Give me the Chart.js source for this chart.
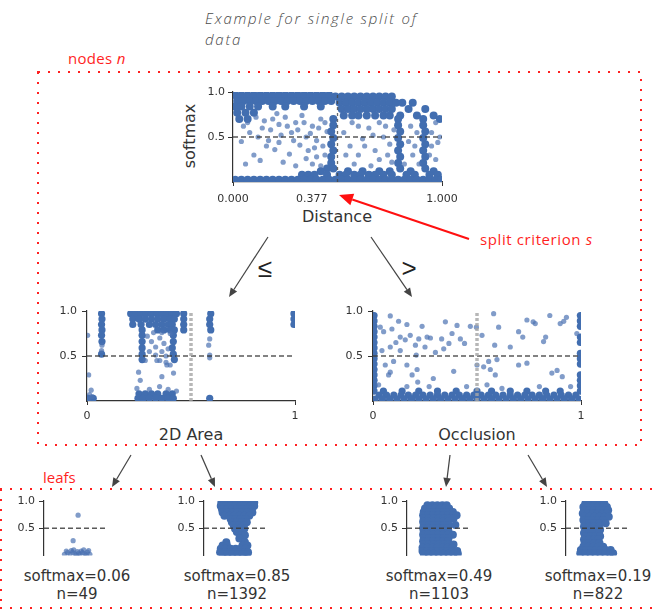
<!DOCTYPE html>
<html lang="en">
<head>
<meta charset="utf-8">
<title>Single split of data</title>
<script src="https://cdn.jsdelivr.net/npm/chart.js@4.4.0/dist/chart.umd.min.js"></script>
<style>
  html, body { margin: 0; padding: 0; background: #fff; }
  #stage { position: relative; width: 656px; height: 610px; overflow: hidden; font-family: 'DejaVu Sans', sans-serif; color: #333; }
  #stage canvas { position: absolute; }
  #stage svg { position: absolute; left: 0; top: 0; }
  .lbl { position: absolute; white-space: nowrap; transform: translate(-50%, -50%); line-height: 1; }
  .red { position: absolute; white-space: nowrap; color: #ff1f1f; font-family: 'Open Sans', sans-serif; font-size: 15px; line-height: 1; }
  #title { position: absolute; left: 205px; top: 8px; font-family: 'Open Sans', sans-serif; font-style: italic; font-weight: 300; font-size: 15px; letter-spacing: 1.75px; line-height: 21px; color: #4a4a4a; white-space: nowrap; }
  .rel { position: absolute; transform: translate(-50%, -50%); font-family: 'Liberation Sans', sans-serif; font-size: 26px; line-height: 1; color: #222; }
</style>
</head>
<body>
<div id="stage">
  <svg id="marks" width="656" height="610"></svg>
  <div id="title">Example for single split of<br>data</div>
  <div class="red" style="left:68px; top:51px; letter-spacing:0.3px;">nodes <i>n</i></div>
  <div class="red" style="left:480px; top:232px; letter-spacing:0.6px;">split criterion <i>s</i></div>
  <div class="red" style="left:43px; top:470px;">leafs</div>
  <div class="rel" style="left:265px; top:268px;">≤</div>
  <div class="rel" style="left:409px; top:268px;">&gt;</div>
  <div class="lbl" style="left:190px; top:136px; font-size:16px; transform:translate(-50%,-50%) rotate(-90deg);">softmax</div>
  <div class="lbl" style="left:337px; top:217px; font-size:16px;">Distance</div>
  <div class="lbl" style="left:191px; top:435px; font-size:16px;">2D Area</div>
  <div class="lbl" style="left:477px; top:435px; font-size:16px;">Occlusion</div>
  <div id="leafText"></div>
  <canvas id="cDistance"></canvas>
  <canvas id="cArea"></canvas>
  <canvas id="cOcclusion"></canvas>
  <canvas id="cLeaf0"></canvas>
  <canvas id="cLeaf1"></canvas>
  <canvas id="cLeaf2"></canvas>
  <canvas id="cLeaf3"></canvas>
</div>
<script>
// ---- split settings ----
const splitValue = 0.377;            // chosen Distance threshold
const softmaxThreshold = 0.5;
const areaNextSplit = 0.043;
const occlusionNextSplit = 0.019;
const distanceTicks = [0, splitValue, 1];
const unitTicks = [0, 1];
const softmaxTicks = [0.5, 1.0];

// ---- leaf summaries ----
const leafSoftmax = [0.06, 0.85, 0.49, 0.19];
const leafCounts = [49, 1392, 1103, 822];

// ---- root node: softmax vs Distance ([y, [x...]] rows for the dense bands) ----
const distanceDenseRows = [
  [0.965, [0.01,0.04,0.07,0.10,0.13,0.16,0.19,0.22,0.25,0.28,0.31,0.34,0.37,0.40,0.43,0.46]],
  [0.95,  [0.49,0.52,0.55,0.58,0.61,0.64,0.67,0.70,0.73,0.76]],
  [0.90,  [0.02,0.05,0.08,0.11,0.14,0.17,0.20,0.23,0.26,0.29,0.32,0.35,0.38,0.41,0.44,0.47]],
  [0.88,  [0.51,0.54,0.57,0.60,0.63,0.66,0.69,0.72,0.75,0.78,0.81,0.86]],
  [0.84,  [0.01,0.04,0.08,0.12,0.19,0.25,0.34,0.42]],
  [0.81,  [0.52,0.55,0.58,0.61,0.64,0.67,0.70,0.73,0.76,0.84,0.92]],
  [0.77,  [0.02,0.06,0.10]],
  [0.74,  [0.53,0.57,0.60,0.64,0.68,0.72,0.75,0.80,0.88,0.96]],
  [0.70,  [0.03,0.07,0.48,0.79,0.91,0.99]],
  [0.63,  [0.48,0.79,0.91]],
  [0.56,  [0.47,0.80,0.92]],
  [0.49,  [0.48,0.79,0.91]],
  [0.42,  [0.47,0.80,0.92]],
  [0.35,  [0.48,0.79,0.91]],
  [0.28,  [0.47,0.80,0.92]],
  [0.21,  [0.47,0.79,0.91]],
  [0.15,  [0.45,0.48,0.80,0.92]],
  [0.12,  [0.42,0.55,0.62,0.70,0.75,0.85,0.96]],
  [0.08,  [0.33,0.36,0.39,0.45,0.51,0.54,0.58,0.61,0.65,0.68,0.72,0.76,0.83,0.87,0.94,0.98]],
  [0.025, [0.01,0.04,0.07,0.10,0.13,0.16,0.19,0.22,0.25,0.28,0.31,0.34,0.37,0.40,0.43,0.46,0.49,0.52,0.55,0.58,0.61,0.64,0.67,0.70,0.73,0.76,0.79,0.82,0.85,0.88,0.91,0.94,0.97,0.995]]
];
const distanceSparse = [
  [0.05,0.62],[0.08,0.55],[0.12,0.50],[0.04,0.45],[0.15,0.68],[0.18,0.58],[0.22,0.64],[0.25,0.72],
  [0.28,0.55],[0.30,0.66],[0.33,0.74],[0.35,0.50],[0.38,0.62],[0.40,0.46],[0.42,0.70],[0.10,0.30],
  [0.13,0.24],[0.20,0.36],[0.27,0.31],[0.32,0.41],[0.36,0.35],[0.40,0.28],[0.43,0.40],[0.06,0.20],
  [0.24,0.22],[0.30,0.18],[0.17,0.46],[0.45,0.56],[0.21,0.76],[0.11,0.72],[0.42,0.18],[0.38,0.20],
  [0.07,0.66],[0.14,0.60],[0.19,0.70],[0.23,0.52],[0.26,0.62],[0.31,0.58],[0.34,0.66],[0.37,0.54],
  [0.41,0.60],[0.44,0.66],[0.16,0.40],[0.22,0.44],[0.29,0.46],[0.39,0.38],[0.44,0.30],[0.35,0.26],
  [0.53,0.55],[0.56,0.40],[0.60,0.30],[0.62,0.48],[0.65,0.60],[0.68,0.35],[0.70,0.25],[0.72,0.50],
  [0.75,0.42],[0.58,0.20],[0.66,0.18],[0.74,0.30],[0.84,0.45],[0.86,0.30],[0.88,0.55],[0.95,0.40],
  [0.97,0.25],[0.99,0.50],[0.82,0.20],[0.60,0.62],[0.54,0.30],[0.95,0.55],[0.85,0.62],[0.97,0.66],
  [0.70,0.66],[0.77,0.58],[0.57,0.66],[0.63,0.40],[0.67,0.52],[0.73,0.62],[0.76,0.22],[0.87,0.40],
  [0.89,0.20],[0.94,0.30],[0.98,0.44]
];

// ---- left child: softmax vs 2D Area ----
const areaDenseRows = [
  [0.97, [0.07,0.21,0.235,0.26,0.285,0.31,0.335,0.36,0.385,0.41,0.43,0.465,0.595,0.995]],
  [0.91, [0.072,0.22,0.25,0.28,0.31,0.34,0.37,0.40,0.42,0.465,0.59,0.995]],
  [0.85, [0.07,0.22,0.26,0.30,0.33,0.36,0.39,0.41,0.465,0.59,0.995]],
  [0.79, [0.072,0.265,0.34,0.37,0.40,0.42,0.465,0.595]],
  [0.73, [0.07,0.265,0.415]],
  [0.66, [0.072,0.265,0.415]],
  [0.59, [0.265,0.41]],
  [0.52, [0.07,0.265,0.415]],
  [0.46, [0.265,0.42]],
  [0.08, [0.25,0.28,0.31,0.34,0.38,0.41]],
  [0.03, [0.005,0.03,0.245,0.27,0.30,0.33,0.36,0.39,0.415,0.59]]
];
const areaSparse = [
  [0.003,0.73],[0.008,0.29],[0.012,0.07],[0.02,0.12],[0.008,0.02],[0.025,0.05],
  [0.072,0.62],[0.07,0.56],[0.59,0.69],[0.585,0.62],[0.59,0.51],[0.59,0.48],
  [0.29,0.72],[0.31,0.66],[0.33,0.60],[0.35,0.70],[0.37,0.64],[0.36,0.55],[0.39,0.58],[0.33,0.51],
  [0.38,0.50],[0.35,0.45],[0.38,0.43],[0.40,0.40],[0.30,0.55],[0.28,0.45],[0.248,0.32],[0.256,0.23],
  [0.36,0.27],[0.349,0.16],[0.416,0.31],[0.336,0.45],[0.384,0.40],[0.32,0.76],[0.36,0.76],[0.40,0.75],
  [0.24,0.14],[0.30,0.13],[0.39,0.13],[0.43,0.11]
];

// ---- right child: softmax vs Occlusion ----
const occlusionDenseRows = [
  [0.95, [0.005,0.997]], [0.89, [0.005,0.997]], [0.83, [0.005,0.997]], [0.77, [0.005]],
  [0.71, [0.005,0.997]], [0.65, [0.005,0.997]], [0.59, [0.005]], [0.53, [0.005,0.997]],
  [0.47, [0.005,0.997]], [0.41, [0.005,0.997]], [0.35, [0.005]], [0.29, [0.005,0.997]],
  [0.23, [0.005,0.997]], [0.17, [0.005,0.997]],
  [0.11, [0.005,0.05,0.14,0.22,0.31,0.40,0.50,0.57,0.66,0.74,0.83,0.90,0.997]],
  [0.065,[0.03,0.065,0.10,0.135,0.17,0.205,0.24,0.275,0.31,0.345,0.38,0.415,0.45,0.485,0.52,0.555,0.59,0.625,0.66,0.695,0.73,0.765,0.80,0.835,0.87,0.905,0.94,0.975]],
  [0.02, [0.01,0.045,0.08,0.115,0.15,0.185,0.22,0.255,0.29,0.325,0.36,0.395,0.43,0.465,0.50,0.535,0.57,0.605,0.64,0.675,0.71,0.745,0.78,0.815,0.85,0.885,0.92,0.955,0.99]]
];
const occlusionSparse = [
  [0.083,0.945],[0.123,0.886],[0.035,0.82],[0.051,0.77],[0.091,0.80],[0.163,0.85],[0.131,0.71],[0.155,0.68],
  [0.179,0.73],[0.236,0.83],[0.204,0.62],[0.22,0.69],[0.26,0.71],[0.276,0.70],[0.348,0.88],[0.404,0.84],
  [0.38,0.75],[0.42,0.69],[0.44,0.64],[0.468,0.83],[0.33,0.69],[0.34,0.58],[0.043,0.56],[0.083,0.60],
  [0.131,0.56],[0.099,0.44],[0.059,0.40],[0.083,0.32],[0.075,0.29],[0.163,0.40],[0.208,0.51],[0.212,0.35],
  [0.188,0.29],[0.215,0.21],[0.29,0.25],[0.388,0.33],[0.497,0.82],[0.524,0.73],[0.556,0.44],[0.532,0.38],
  [0.564,0.35],[0.588,0.29],[0.58,0.97],[0.604,0.82],[0.585,0.62],[0.596,0.46],[0.66,0.60],[0.70,0.77],
  [0.72,0.71],[0.74,0.90],[0.70,0.40],[0.74,0.42],[0.77,0.88],[0.78,0.86],[0.82,0.66],[0.85,0.95],
  [0.83,0.71],[0.86,0.31],[0.885,0.34],[0.90,0.86],[0.917,0.885],[0.93,0.93],[0.91,0.27],[0.98,0.75],
  [0.95,0.16],[0.50,0.40],[0.548,0.18],[0.163,0.16],[0.027,0.18],[0.11,0.65],[0.25,0.60],[0.30,0.54],
  [0.365,0.64],[0.27,0.16],[0.45,0.16],[0.62,0.14],[0.80,0.16]
];

// ---- leaf strip plots (x is jitter only) ----
const leafPointsA = [
  [0.33,0.02],[0.38,0.05],[0.42,0.02],[0.46,0.06],[0.50,0.03],[0.54,0.07],[0.58,0.02],[0.62,0.05],
  [0.66,0.03],[0.70,0.06],[0.74,0.02],[0.36,0.08],[0.44,0.09],[0.52,0.01],[0.60,0.08],[0.68,0.01],
  [0.72,0.09],[0.48,0.10],[0.56,0.04],[0.64,0.10],[0.47,0.27],[0.55,0.74]
];
const leafRowsB = [
  [0.97,[0.28,0.36,0.44,0.52,0.60,0.68,0.76,0.81]], [0.91,[0.27,0.35,0.43,0.51,0.59,0.67,0.75,0.81]],
  [0.85,[0.29,0.37,0.45,0.53,0.61,0.69,0.77]], [0.79,[0.30,0.38,0.46,0.54,0.62,0.70,0.78]],
  [0.73,[0.33,0.41,0.49,0.57,0.65,0.73]], [0.67,[0.43,0.51,0.59,0.67]], [0.61,[0.45,0.53,0.61,0.69]],
  [0.55,[0.48,0.56,0.64]], [0.49,[0.50,0.58,0.65]], [0.43,[0.53,0.61]], [0.37,[0.60,0.66]], [0.31,[0.57]],
  [0.24,[0.36,0.66]], [0.18,[0.30,0.37,0.62,0.70]], [0.12,[0.27,0.35,0.43,0.51,0.59,0.67]],
  [0.06,[0.26,0.34,0.42,0.50,0.58,0.66,0.71]], [0.02,[0.30,0.38,0.46,0.54,0.62,0.70]]
];
const leafRowsC = [
  [0.92,[0.33,0.41,0.49,0.57,0.64]], [0.86,[0.29,0.37,0.45,0.53,0.61,0.68]],
  [0.80,[0.27,0.35,0.43,0.51,0.59,0.67,0.74]], [0.74,[0.26,0.34,0.42,0.50,0.58,0.66,0.74,0.80]],
  [0.68,[0.27,0.35,0.43,0.51,0.59,0.67,0.75]], [0.62,[0.26,0.34,0.42,0.50,0.58,0.66]],
  [0.56,[0.27,0.35,0.43,0.51,0.59,0.67,0.78]], [0.50,[0.26,0.34,0.42,0.50,0.58,0.66]],
  [0.44,[0.27,0.35,0.43,0.51,0.59,0.67]], [0.38,[0.26,0.34,0.42,0.50,0.58,0.66,0.74]],
  [0.32,[0.27,0.35,0.43,0.51,0.59,0.67]], [0.26,[0.26,0.34,0.42,0.50,0.58,0.66]],
  [0.20,[0.27,0.35,0.43,0.51,0.59,0.67,0.75]], [0.14,[0.25,0.33,0.41,0.49,0.57,0.65,0.73]],
  [0.08,[0.25,0.33,0.41,0.49,0.57,0.65,0.73,0.81]], [0.03,[0.27,0.35,0.43,0.51,0.59,0.67,0.75,0.82]]
];
const leafRowsD = [
  [0.95,[0.31,0.39,0.47,0.55,0.62]], [0.89,[0.28,0.36,0.44,0.52,0.60,0.66]],
  [0.83,[0.29,0.37,0.45,0.53,0.61,0.68]], [0.77,[0.27,0.35,0.43,0.51,0.59,0.66]],
  [0.71,[0.30,0.38,0.46,0.54,0.62,0.69]], [0.65,[0.28,0.36,0.44,0.52,0.60]],
  [0.59,[0.30,0.38,0.46,0.54,0.64]], [0.53,[0.29,0.37,0.45,0.53]], [0.47,[0.31,0.39,0.47,0.55]],
  [0.41,[0.29,0.37,0.45,0.53]], [0.35,[0.31,0.39,0.47,0.55]], [0.29,[0.29,0.37,0.45,0.52]],
  [0.23,[0.30,0.38,0.46,0.54]], [0.16,[0.28,0.36,0.44,0.52,0.60]],
  [0.10,[0.24,0.32,0.40,0.48,0.56,0.64,0.72]], [0.04,[0.23,0.31,0.39,0.47,0.55,0.63,0.71,0.76]]
];

// ---- helpers ----
const AXIS = '#333';
const DENSE = 'rgb(66,110,176)';
const SPARSE = 'rgba(76,114,178,0.7)';
const fromPairs = list => list.map(([x, y]) => ({ x, y }));
const fromRows = rows => rows.flatMap(([y, xs]) => xs.map(x => ({ x, y })));
const span = (a, b) => [{ x: a.x, y: a.y }, { x: b.x, y: b.y }];

function dots(data, radius, color) {
  return {
    data, pointRadius: radius, pointHoverRadius: radius,
    backgroundColor: color, pointBackgroundColor: color,
    borderWidth: 0, pointBorderWidth: 0, pointBorderColor: 'rgba(0,0,0,0)'
  };
}
function guide(data, color, width, dash) {
  return { data, showLine: true, pointRadius: 0, borderColor: color, borderWidth: width, borderDash: dash, fill: false };
}
function splitMarker(x, drop) {
  return { data: [{ x, y: -drop }], pointStyle: 'triangle', pointRadius: 4, pointBackgroundColor: AXIS,
           pointBorderWidth: 0, backgroundColor: AXIS, borderWidth: 0, clip: false };
}
const hLine = guide(span({ x: 0, y: softmaxThreshold }, { x: 1, y: softmaxThreshold }), 'rgba(60,60,60,0.85)', 1.5, [5, 3]);

function panel(id, box, datasets, axes) {
  const el = document.getElementById(id);
  el.width = box.w; el.height = box.h;
  Object.assign(el.style, { left: box.l + 'px', top: box.t + 'px', width: box.w + 'px', height: box.h + 'px' });
  const tickFont = { family: "'DejaVu Sans', sans-serif", size: 11 };
  return new Chart(el, {
    type: 'scatter',
    data: { datasets },
    options: {
      responsive: false, animation: false, devicePixelRatio: 1, events: [],
      layout: { padding: { top: box.pt, right: box.pr, left: 0, bottom: box.pb || 0 } },
      plugins: { legend: { display: false }, tooltip: { enabled: false } },
      scales: {
        x: {
          type: 'linear', min: 0, max: 1, display: axes.showX,
          afterBuildTicks: s => { s.ticks = axes.xTicks.map(v => ({ value: v })); },
          afterFit: s => { s.height = box.xh || 0; },
          ticks: { callback: axes.xFmt, color: AXIS, font: tickFont, padding: axes.xPad, maxRotation: 0, autoSkip: false },
          grid: { display: true, drawOnChartArea: false, drawTicks: true, tickLength: 4, color: AXIS,
                  tickColor: c => (c.tick && c.tick.value === axes.hideTick) ? 'rgba(0,0,0,0)' : AXIS },
          border: { display: true, color: AXIS, width: 1.2 }
        },
        y: {
          type: 'linear', min: 0, max: 1,
          afterBuildTicks: s => { s.ticks = softmaxTicks.map(v => ({ value: v })); },
          afterFit: s => { s.width = box.yw; },
          ticks: { callback: v => v.toFixed(1), color: AXIS, font: tickFont, padding: axes.yPad },
          grid: { display: true, drawOnChartArea: false, drawTicks: true, tickLength: 5, color: AXIS, tickColor: AXIS },
          border: { display: true, color: AXIS, width: 1.2 }
        }
      }
    }
  });
}

// root node
panel('cDistance', { l: 180, t: 80, w: 290, h: 130, yw: 53, xh: 28, pt: 12, pr: 28 }, [
  hLine,
  guide(span({ x: 0.5, y: 0 }, { x: 0.5, y: 1 }), 'rgba(70,70,70,0.8)', 1.3, [3, 3]),
  splitMarker(splitValue, 0.065),
  dots(fromPairs(distanceSparse), 2.6, SPARSE),
  dots(fromRows(distanceDenseRows), 4, DENSE)
], { showX: true, xTicks: distanceTicks, xFmt: v => v.toFixed(3), xPad: 7, yPad: 3, hideTick: splitValue });

// children
const childAxes = { showX: true, xTicks: unitTicks, xFmt: v => String(v), xPad: 5, yPad: 5 };
const vGray = () => guide(span({ x: 0.5, y: 0 }, { x: 0.5, y: 1 }), 'rgba(165,165,165,0.8)', 3.5, [3, 2]);
panel('cArea', { l: 40, t: 298, w: 280, h: 128, yw: 47, xh: 25, pt: 13, pr: 25 }, [
  vGray(), hLine, splitMarker(areaNextSplit, 0.06),
  dots(fromPairs(areaSparse), 2.6, SPARSE),
  dots(fromRows(areaDenseRows), 3.6, DENSE)
], childAxes);
panel('cOcclusion', { l: 326, t: 298, w: 280, h: 128, yw: 47, xh: 25, pt: 13, pr: 25 }, [
  vGray(), hLine, splitMarker(occlusionNextSplit, 0.06),
  dots(fromPairs(occlusionSparse), 2.6, SPARSE),
  dots(fromRows(occlusionDenseRows), 3.6, DENSE)
], childAxes);

// leaves
const leafAxes = { showX: false, xTicks: unitTicks, xFmt: v => String(v), xPad: 0, yPad: 4 };
const leafData = [fromPairs(leafPointsA), fromRows(leafRowsB), fromRows(leafRowsC), fromRows(leafRowsD)];
const leafAxisX = [44, 204, 407, 566];
const leafLabelX = [77, 237, 439, 598];
leafData.forEach((pts, i) => {
  panel('cLeaf' + i, { l: leafAxisX[i] - 36, t: 490, w: 108, h: 76, yw: 36, pt: 11, pr: 10, pb: 1 }, [
    hLine, dots(pts, i === 0 ? 2.6 : 4, i === 0 ? SPARSE : DENSE)
  ], leafAxes);
  const holder = document.getElementById('leafText');
  [['softmax=' + leafSoftmax[i].toFixed(2), 576], ['n=' + leafCounts[i], 594]].forEach(([txt, cy]) => {
    const d = document.createElement('div');
    d.className = 'lbl';
    d.style.cssText = `left:${leafLabelX[i]}px; top:${cy}px; font-size:15px;`;
    d.textContent = txt;
    holder.appendChild(d);
  });
});

// ---- frames and connectors ----
const svg = document.getElementById('marks');
const NS = 'http://www.w3.org/2000/svg';
function add(tag, attrs) {
  const e = document.createElementNS(NS, tag);
  for (const k in attrs) e.setAttribute(k, attrs[k]);
  svg.appendChild(e);
  return e;
}
const dotted = { stroke: '#ff2020', 'stroke-width': 2, 'stroke-dasharray': '2 8', fill: 'none' };
add('rect', Object.assign({ x: 38, y: 72, width: 603, height: 373 }, dotted));
add('path', Object.assign({ d: 'M0 489 H656 M1 489 V608 M0 608 H656' }, dotted));

function arrow(x1, y1, x2, y2, color, width, len, half) {
  const a = Math.atan2(y2 - y1, x2 - x1);
  const bx = x2 - len * Math.cos(a), by = y2 - len * Math.sin(a);
  add('line', { x1, y1, x2: bx, y2: by, stroke: color, 'stroke-width': width });
  const px = -Math.sin(a) * half, py = Math.cos(a) * half;
  add('polygon', { points: `${x2},${y2} ${bx + px},${by + py} ${bx - px},${by - py}`, fill: color });
}
[[268,237,229,297],[371,237,412,297],[131,455,112,487],[201,455,215,487],[450,455,446,487],[528,455,547,487]]
  .forEach(([a, b, c, d]) => arrow(a, b, c, d, '#444', 1.2, 9, 3.8));
arrow(469, 239, 339, 195, '#ff1010', 2, 14, 6);
</script>
</body>
</html>
